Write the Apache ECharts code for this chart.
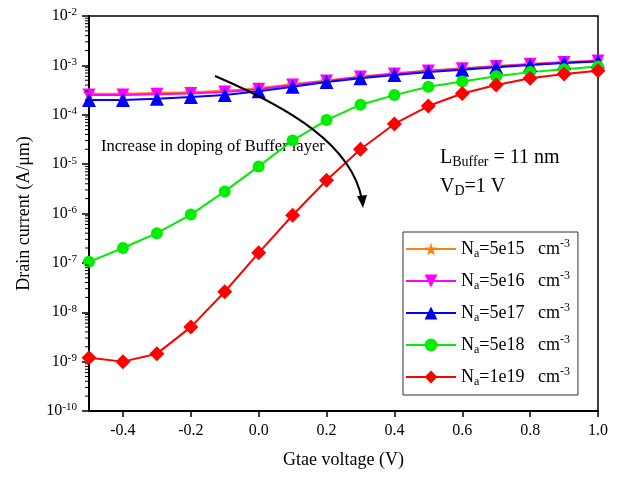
<!DOCTYPE html>
<html><head><meta charset="utf-8">
<script src="https://cdn.jsdelivr.net/npm/echarts@6/dist/echarts.min.js"></script>
<style>html,body{margin:0;padding:0;background:#fff}#c{width:619px;height:477px}</style>
</head><body><div id="c"></div>
<script>
const voltages = [-0.5,-0.4,-0.3,-0.2,-0.1,0.0,0.1,0.2,0.3,0.4,0.5,0.6,0.7,0.8,0.9,1.0];
const na5e15 = [2.65e-4,2.65e-4,2.75e-4,2.85e-4,3.05e-4,3.45e-4,4.15e-4,4.95e-4,5.95e-4,6.9e-4,7.9e-4,8.7e-4,9.7e-4,1.07e-3,1.17e-3,1.25e-3];
const na5e16 = [2.5e-4,2.5e-4,2.6e-4,2.7e-4,2.9e-4,3.3e-4,4.0e-4,4.8e-4,5.8e-4,6.7e-4,7.7e-4,8.5e-4,9.5e-4,1.05e-3,1.15e-3,1.22e-3];
const na5e17 = [2.0e-4,2.0e-4,2.1e-4,2.3e-4,2.5e-4,3.0e-4,3.7e-4,4.6e-4,5.5e-4,6.4e-4,7.3e-4,8.2e-4,9.2e-4,1.02e-3,1.12e-3,1.2e-3];
const na5e18 = [1.05e-7,2.0e-7,4.0e-7,9.5e-7,2.8e-6,9.0e-6,3.0e-5,7.8e-5,1.6e-4,2.5e-4,3.7e-4,4.7e-4,6.0e-4,7.3e-4,8.3e-4,9.5e-4];
const na1e19 = [1.2e-9,1.0e-9,1.45e-9,5.0e-9,2.6e-8,1.6e-7,9.2e-7,4.7e-6,2.0e-5,6.5e-5,1.5e-4,2.7e-4,4.0e-4,5.5e-4,6.7e-4,7.8e-4];
const seriesNames = ['5e15','5e16','5e17','5e18','1e19'];
const xTicks = [-0.4,-0.2,0.0,0.2,0.4,0.6,0.8,1.0];

const minorY = [];
for (let e = -10; e < -2; e++) for (let m = 2; m <= 9; m++) minorY.push(m * Math.pow(10, e));

const font = 'Liberation Serif, Times New Roman, serif';
const star = 'path://M50,0 L61,35 L98,35 L68,57 L79,91 L50,70 L21,91 L32,57 L2,35 L39,35 Z';
const pair = a => a.map((v,i)=>[voltages[i], v]);

const mk = (name, data, color, symbol, size, rot) => ({
  name: name, type: 'line', data: pair(data), symbol: symbol, symbolSize: size, symbolRotate: rot || 0,
  showAllSymbol: true,
  lineStyle: {color: color, width: 2}, itemStyle: {color: color}, z: 3
});

const subRich = (fs) => ({
  n: {fontFamily: font, fontSize: fs, color: '#000', lineHeight: 22, verticalAlign: 'middle'},
  s: {fontFamily: font, fontSize: Math.round(fs*0.68), color: '#000', lineHeight: 8, verticalAlign: 'bottom'},
  p: {fontFamily: font, fontSize: Math.round(fs*0.65), color: '#000', lineHeight: 8, verticalAlign: 'top'}
});

const chart = echarts.init(document.getElementById('c'));
chart.setOption({
  animation: false,
  grid: {left: 89, top: 16, right: 21, bottom: 66, show: true, borderColor: '#000', borderWidth: 1.5},
  xAxis: {
    type: 'value', min: -0.5, max: 1.0, interval: 0.2,
    name: 'Gtae voltage (V)', nameLocation: 'middle', nameGap: 40,
    nameTextStyle: {fontFamily: font, fontSize: 18, color: '#000'},
    axisLine: {onZero: false, lineStyle: {color: '#000', width: 2}},
    axisTick: {lineStyle: {color: '#000', width: 1.5}, length: 6, customValues: xTicks},
    axisLabel: {fontFamily: font, fontSize: 16, color: '#000', margin: 12, customValues: xTicks,
      formatter: v => v.toFixed(1)},
    splitLine: {show: false}
  },
  yAxis: {
    type: 'log', logBase: 10, min: 1e-10, max: 1e-2,
    name: 'Drain current (A/\u03bcm)', nameLocation: 'middle', nameGap: 56,
    nameTextStyle: {fontFamily: font, fontSize: 18, color: '#000'},
    axisLine: {onZero: false, lineStyle: {color: '#000', width: 2}},
    axisTick: {lineStyle: {color: '#000', width: 1.5}, length: 7},
    axisLabel: {
      margin: 12, color: '#000',
      formatter: v => '{b|10}{e|' + Math.round(Math.log10(v)) + '}',
      rich: {b: {fontFamily: font, fontSize: 16, color: '#000', lineHeight: 18, verticalAlign: 'middle'},
             e: {fontFamily: font, fontSize: 11, color: '#000', verticalAlign: 'top', lineHeight: 6}}
    },
    splitLine: {show: false}
  },
  legend: {
    orient: 'vertical', left: 403, top: 232, width: 176,
    itemWidth: 50, itemHeight: 16, itemGap: 10,
    backgroundColor: '#fff', borderColor: '#333', borderWidth: 1,
    padding: [6, 8, 7, 2],
    data: seriesNames.map(n => 'N_a=' + n),
    formatter: name => '{n|N}{s|a}{n|=' + name.slice(4) + '   cm}{p|-3}',
    textStyle: {rich: subRich(18)}
  },
  series: [
    mk('N_a=5e15', na5e15, '#ff7f0e', star, 13),
    mk('N_a=5e16', na5e16, '#ff00ff', 'triangle', 13, 180),
    mk('N_a=5e17', na5e17, '#0000ff', 'triangle', 14),
    mk('N_a=5e18', na5e18, '#00ee00', 'circle', 12),
    mk('N_a=1e19', na1e19, '#ff0000', 'diamond', 15),
    {
      type: 'custom', silent: true, z: 5,
      data: minorY,
      renderItem: (params, api) => {
        const p = api.coord([-0.5, api.value(0)]);
        return {type: 'line', shape: {x1: 89 - 4, y1: p[1], x2: 89, y2: p[1]},
          style: {stroke: '#000', lineWidth: 1}};
      },
      encode: {y: 0}
    }
  ],
  graphic: [
    {type: 'text', left: 101, top: 138, style: {text: 'Increase in doping of Buffer layer', font: '16.5px ' + font, fill: '#000'}},
    {type: 'text', left: 440, top: 148, style: {
      text: '{n|L}{s|Buffer}{n| = 11 nm}', rich: subRich(20)}},
    {type: 'text', left: 440, top: 177, style: {
      text: '{n|V}{s|D}{n|=1 V}', rich: subRich(20)}},
    {type: 'bezierCurve', z: 10, shape: {x1: 215, y1: 76, cpx1: 290, cpy1: 108, cpx2: 352, cpy2: 145, x2: 362, y2: 200},
      style: {stroke: '#000', lineWidth: 2, fill: null}},
    {type: 'polygon', z: 10, shape: {points: [[357, 196], [367, 195], [363, 208]]}, style: {fill: '#000'}}
  ]
});
</script></body></html>
